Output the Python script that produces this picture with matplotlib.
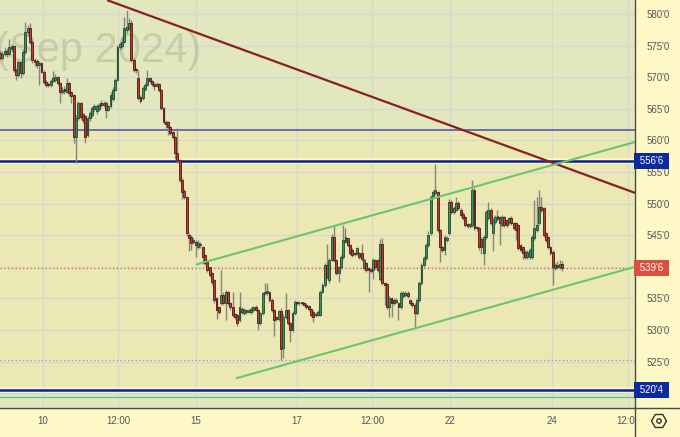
import matplotlib.pyplot as plt
from matplotlib.patches import RegularPolygon, Circle
from matplotlib.lines import Line2D
from matplotlib.transforms import Bbox, TransformedBbox

plt.rcParams['font.family'] = ['Liberation Sans', 'DejaVu Sans']

# hourly candles, wheat futures (Sep 2024 contract)
opens = [573.8, 573.0, 573.6, 574.2, 573.6, 574.4, 574.9, 571.2, 570.3, 572.4,
         570.6, 574.0, 577.2, 577.8, 575.5, 572.8, 572.6, 571.9, 572.2, 570.9,
         569.2, 569.0, 568.7, 569.4, 569.5, 570.0, 569.1, 567.7, 568.2, 567.7,
         569.1, 567.6, 567.2, 560.5, 563.5, 565.9, 564.2, 563.8, 560.9, 563.5,
         564.0, 564.9, 564.6, 565.0, 566.0, 565.6, 566.0, 564.8, 565.4, 566.6,
         568.0, 569.6, 574.8, 574.9, 575.6, 577.4, 577.8, 578.6, 572.7, 571.3,
         569.8, 566.9, 566.7, 568.1, 568.8, 569.8, 569.4, 569.0, 568.6, 568.9,
         568.0, 565.1, 562.9, 562.9, 562.1, 561.3, 560.5, 558.0, 556.9, 553.7,
         552.0, 551.0, 545.0, 544.7, 544.0, 544.0, 543.1, 543.4, 543.1, 541.9,
         540.8, 539.9, 539.0, 537.9, 535.1, 533.6, 534.3, 535.5, 534.3, 536.0,
         534.3, 533.6, 532.5, 532.4, 531.6, 533.4, 532.7, 532.9, 532.9, 532.9,
         533.2, 533.6, 533.2, 531.1, 532.7, 535.8, 535.8, 536.0, 534.7, 533.2,
         532.0, 531.7, 533.0, 527.2, 532.1, 533.2, 531.1, 530.0, 532.7, 534.4,
         534.2, 534.3, 534.2, 534.0, 533.8, 533.3, 532.9, 532.6, 532.4, 532.4,
         536.0, 537.1, 540.3, 537.9, 541.1, 544.7, 541.1, 539.0, 539.9, 541.5,
         544.0, 544.5, 543.4, 542.7, 542.2, 542.2, 542.2, 542.2, 539.8, 540.6,
         539.8, 539.6, 539.5, 541.1, 541.1, 538.0, 543.6, 537.4, 537.3, 533.6,
         535.1, 534.8, 534.5, 534.3, 533.6, 535.4, 535.6, 535.9, 534.7, 534.3,
         534.0, 532.7, 534.7, 537.4, 540.3, 541.4, 543.4, 545.3, 551.0, 551.7,
         551.8, 545.8, 543.1, 542.7, 544.2, 545.3, 550.3, 548.7, 549.0, 550.1,
         549.0, 548.4, 547.9, 546.7, 546.4, 546.6, 552.2, 546.3, 546.1, 544.4,
         542.2, 544.7, 547.7, 549.0, 545.3, 547.1, 547.6, 547.9, 546.6, 547.9,
         547.4, 547.1, 547.7, 546.9, 546.9, 546.6, 543.4, 543.1, 542.4, 541.5,
         541.5, 541.5, 544.5, 545.8, 546.9, 549.5, 549.3, 545.3, 544.7, 543.1,
         542.4, 539.8, 540.3, 539.9, 540.5]
highs = [574.3, 574.2, 574.6, 574.6, 576.0, 575.3, 575.0, 571.5, 572.7, 572.6,
         574.4, 578.7, 578.2, 578.6, 576.0, 573.0, 572.9, 572.6, 572.4, 571.1,
         569.5, 569.3, 569.7, 571.0, 570.5, 570.2, 569.3, 568.4, 568.6, 569.8,
         569.2, 567.8, 567.4, 564.0, 566.3, 566.1, 564.4, 564.0, 563.8, 564.6,
         565.4, 565.8, 565.8, 566.0, 566.4, 566.2, 566.2, 565.6, 567.6, 568.4,
         569.9, 575.1, 575.6, 576.4, 579.5, 580.6, 579.4, 579.0, 573.0, 571.4,
         571.1, 567.2, 568.6, 569.1, 571.1, 570.1, 569.6, 569.3, 569.2, 569.1,
         568.2, 565.3, 563.2, 563.0, 562.3, 561.5, 560.7, 561.9, 557.1, 554.0,
         552.3, 551.2, 545.4, 545.0, 544.6, 544.2, 544.2, 544.0, 543.3, 542.1,
         541.0, 540.0, 539.2, 538.1, 535.3, 533.8, 539.5, 536.0, 536.3, 536.2,
         534.5, 536.0, 532.7, 532.6, 536.0, 533.7, 533.5, 533.4, 533.3, 533.6,
         533.8, 533.9, 533.4, 532.9, 536.0, 537.4, 537.4, 536.2, 535.0, 533.4,
         532.2, 533.2, 533.5, 532.6, 535.9, 533.4, 531.3, 533.0, 534.7, 534.6,
         534.6, 534.5, 534.4, 534.2, 534.0, 533.5, 533.1, 532.8, 533.1, 536.3,
         537.4, 540.6, 543.6, 541.4, 545.2, 546.6, 541.3, 540.2, 541.8, 546.6,
         546.2, 544.6, 543.6, 542.9, 542.4, 543.1, 542.4, 543.6, 541.4, 540.8,
         540.0, 539.8, 541.4, 541.3, 541.3, 544.4, 544.6, 537.6, 537.5, 535.4,
         535.3, 535.0, 535.0, 534.5, 536.2, 536.1, 536.1, 536.1, 534.9, 534.6,
         534.2, 535.0, 537.7, 540.6, 541.7, 543.7, 545.6, 551.4, 552.2, 556.3,
         552.0, 546.0, 543.3, 545.0, 544.9, 550.8, 550.6, 549.6, 551.0, 550.4,
         549.3, 548.6, 548.1, 546.9, 546.9, 553.7, 552.4, 546.5, 546.3, 544.7,
         545.0, 549.0, 550.3, 549.3, 547.7, 548.2, 549.0, 548.1, 548.2, 548.1,
         547.6, 547.9, 548.0, 547.1, 547.1, 546.8, 543.6, 543.3, 542.6, 542.7,
         543.0, 545.0, 550.6, 551.0, 552.2, 551.0, 549.5, 545.5, 544.9, 543.3,
         542.6, 540.6, 540.9, 541.0, 540.9]
lows = [572.7, 572.8, 573.3, 573.2, 573.4, 574.0, 570.8, 569.5, 570.0, 569.8,
        570.4, 573.7, 576.5, 575.2, 572.3, 571.8, 571.5, 568.8, 570.6, 568.9,
        568.5, 568.4, 568.5, 569.2, 569.2, 568.8, 566.0, 567.3, 567.3, 567.5,
        567.0, 566.0, 559.6, 556.4, 563.2, 563.4, 562.8, 559.6, 560.5, 563.0,
        563.7, 564.6, 564.2, 564.7, 565.3, 565.3, 563.6, 564.6, 565.2, 566.3,
        567.8, 569.4, 574.3, 574.6, 575.4, 577.0, 577.5, 572.4, 570.8, 570.6,
        566.4, 565.9, 566.4, 567.8, 568.6, 569.1, 568.6, 568.0, 568.4, 567.7,
        564.8, 562.6, 561.9, 560.9, 560.8, 560.2, 557.0, 556.5, 553.4, 550.7,
        550.7, 544.8, 542.5, 542.6, 543.6, 541.5, 542.8, 543.0, 540.4, 540.3,
        539.2, 538.4, 537.2, 534.3, 531.7, 532.5, 534.0, 533.9, 531.6, 534.0,
        533.2, 532.1, 531.8, 530.6, 531.3, 532.6, 532.4, 532.6, 532.7, 532.6,
        532.9, 533.0, 530.0, 530.8, 532.4, 535.6, 535.5, 534.4, 532.9, 529.0,
        531.4, 531.4, 525.3, 525.6, 531.8, 530.8, 528.1, 529.7, 532.4, 533.9,
        534.0, 533.9, 533.8, 533.4, 533.0, 532.1, 531.2, 532.1, 532.2, 532.2,
        535.8, 536.8, 538.1, 537.4, 540.9, 540.8, 538.7, 537.6, 539.6, 541.3,
        543.7, 543.1, 541.9, 541.6, 541.7, 541.9, 541.2, 540.9, 539.5, 539.2,
        536.0, 539.1, 538.0, 539.7, 539.2, 537.8, 537.1, 534.0, 533.3, 532.1,
        532.0, 534.0, 534.2, 531.6, 533.3, 535.1, 535.3, 535.1, 534.0, 533.6,
        530.5, 532.4, 534.4, 537.1, 540.0, 541.1, 543.1, 545.0, 550.7, 551.4,
        545.5, 540.8, 542.4, 541.9, 543.9, 545.0, 548.4, 548.4, 548.8, 549.0,
        547.9, 547.4, 546.3, 546.1, 546.1, 546.3, 545.8, 545.6, 542.6, 542.0,
        540.3, 544.4, 547.4, 546.6, 542.5, 546.8, 547.3, 543.5, 546.3, 546.3,
        546.3, 546.8, 546.6, 545.8, 544.2, 542.7, 542.4, 541.2, 541.2, 541.2,
        541.2, 541.2, 544.2, 545.5, 546.6, 548.7, 544.7, 543.9, 542.8, 541.9,
        537.1, 539.5, 539.6, 539.6, 539.4]
closes = [573.0, 573.6, 574.2, 573.6, 574.8, 574.9, 571.2, 570.3, 572.4, 570.6,
          574.0, 577.2, 577.8, 575.5, 572.8, 572.4, 571.9, 572.2, 570.9, 569.2,
          568.8, 568.7, 569.4, 569.8, 570.0, 569.1, 567.7, 568.0, 567.8, 569.1,
          567.5, 567.0, 560.5, 563.5, 565.9, 563.7, 563.2, 560.5, 563.5, 564.3,
          565.1, 565.4, 565.4, 565.6, 565.6, 566.0, 564.8, 565.4, 567.2, 568.0,
          569.6, 574.8, 575.2, 575.6, 577.8, 578.0, 578.6, 572.7, 571.1, 571.1,
          566.7, 566.2, 568.3, 568.8, 569.9, 569.4, 568.9, 568.6, 568.9, 568.0,
          565.1, 562.9, 562.6, 562.1, 561.2, 560.5, 558.0, 556.9, 553.7, 551.8,
          551.0, 545.3, 544.6, 543.8, 544.3, 543.4, 543.8, 543.6, 541.5, 540.6,
          539.5, 538.7, 537.6, 534.7, 533.2, 532.8, 535.5, 534.3, 536.0, 534.3,
          533.6, 532.4, 532.1, 531.1, 533.6, 532.9, 533.2, 533.2, 533.1, 533.4,
          533.6, 533.2, 531.1, 532.7, 535.8, 536.0, 536.1, 534.7, 533.2, 531.6,
          531.7, 533.0, 527.0, 532.1, 533.2, 531.1, 530.0, 532.7, 534.4, 534.2,
          534.3, 534.2, 534.0, 533.6, 533.3, 532.4, 532.1, 532.4, 532.9, 536.0,
          537.1, 540.3, 538.4, 541.1, 544.7, 541.1, 539.0, 539.9, 541.5, 544.2,
          544.7, 543.4, 542.2, 541.9, 542.0, 542.9, 541.5, 541.2, 541.1, 539.5,
          539.5, 539.4, 541.1, 540.0, 539.5, 543.6, 537.4, 537.1, 533.6, 535.1,
          534.3, 534.3, 534.8, 533.6, 535.9, 535.9, 535.9, 535.4, 534.3, 534.0,
          532.7, 534.7, 537.4, 540.3, 541.4, 543.4, 545.0, 551.0, 551.8, 552.2,
          545.8, 543.1, 542.7, 544.7, 544.6, 550.3, 548.7, 549.3, 550.1, 549.3,
          548.2, 547.7, 546.6, 546.4, 546.7, 552.2, 546.1, 546.1, 543.1, 543.1,
          544.7, 548.7, 549.0, 546.9, 547.4, 547.9, 548.0, 547.0, 547.9, 546.6,
          546.6, 547.7, 546.9, 546.1, 545.8, 543.0, 542.7, 542.2, 541.5, 542.4,
          542.7, 544.7, 546.1, 546.6, 549.5, 549.0, 545.0, 544.2, 543.1, 542.2,
          540.0, 540.3, 539.9, 540.5, 539.75]

# price axis / time axis
price_ticks = [525, 530, 535, 545, 550, 555, 560, 565, 570, 575, 580]
hidden_grid = [520, 540]
time_ticks = [18.7, 51.2, 85.1, 129.0, 161.5, 195.4, 239.7, 272.7]
time_labels = ['10', '12:00', '15', '17', '12:00', '22', '24', '12:00']

# drawn levels and trend lines
zone_top = 561.6
support_level = 520.5
resist_level = 556.75
last_price = 539.75
low_mark = 525.3
teal_level = 519.4
downtrend = ([46.5, 275.7], [582.2, 551.7])
channel_up = ([85.5, 275.7], [540.4, 559.75])
channel_low = ([102.9, 275.7], [522.4, 540.0])


def fmt(p):
    whole = int(p)
    return f"{whole}'{int(round((p - whole) * 8))}"


fig = plt.figure(figsize=(6.8, 4.37), dpi=100, facecolor='#fdf8c6')
ax = fig.add_axes([0, 29 / 437, 635 / 680, 408 / 437])
ax.set_facecolor('#e3e7bd')
ax.set_xlim(0, 275.7)
ax.set_ylim(517.66, 582.22)
ax.axhspan(support_level, zone_top, color='#ebe8b3', zorder=0, lw=0)

ax.set_axisbelow(True)
ax.set_yticks(hidden_grid, minor=True)
ax.grid(True, which='both', color='#d3d9d0', lw=0.9)

# watermark
ax.text(-0.008, 0.848, '(Sep 2024)', transform=ax.transAxes, fontsize=30,
        color='#858c74', alpha=0.28, va='baseline', ha='left', zorder=0.6)

# horizontal levels
ax.axhline(zone_top, color='#4c4ca6', lw=1.1, zorder=1)
for lv in (resist_level, support_level):
    ax.axhline(lv, color='#fbf7cf', lw=4.0, zorder=1)
    ax.axhline(lv, color='#0c1f94', lw=1.8, zorder=1.1)
ax.axhline(teal_level, color='#5cbf8c', lw=0.9, zorder=1)
ax.axhline(last_price, color='#d9573b', lw=0.9, ls=(0, (1, 2)), zorder=1)
ax.axhline(low_mark, color='#9a9a9a', lw=0.9, ls=(0, (1, 2)), zorder=1)

# candles
idx = list(range(len(closes)))
up = [c >= o for o, c in zip(opens, closes)]
ax.vlines(idx, lows, highs, color='#85857c', lw=1.0, zorder=2)
heights = [(c - o) if abs(c - o) > 0.15 else 0.15 for o, c in zip(opens, closes)]
ax.bar(idx, heights, bottom=opens, width=0.82,
       color=['#3f8f60' if u else '#c23a2d' for u in up],
       edgecolor=['#1f4a31' if u else '#4e1a14' for u in up],
       lw=0.6, zorder=3)

# trend lines
ax.plot(*downtrend, color='#8a1f22', lw=1.6, zorder=4, solid_capstyle='butt')
ax.plot(*channel_up, color='#6cc46f', lw=1.5, zorder=4)
ax.plot(*channel_low, color='#6cc46f', lw=1.5, zorder=4)

# axes styling
for s in ('top', 'left'):
    ax.spines[s].set_visible(False)
for s in ('right', 'bottom'):
    ax.spines[s].set_color('#4a4a4a')
    ax.spines[s].set_linewidth(1)

ax.yaxis.tick_right()
ax.set_yticks(price_ticks)
ax.set_yticklabels([fmt(p) for p in price_ticks])
ax.tick_params(axis='y', which='both', length=0, pad=8, labelsize=7, labelcolor='#555555')
ax.set_xticks(time_ticks)
ax.set_xticklabels(time_labels)
ax.tick_params(axis='x', length=0, pad=6, labelsize=7, labelcolor='#555555')
clip = TransformedBbox(Bbox([[0, 0], [635 / 680, 1]]), fig.transFigure)
for lab in ax.get_xticklabels():
    lab.set_clip_box(clip)
    lab.set_clip_on(True)

# price tags
tags = [(resist_level, '#0c2a9c'), (last_price, '#d9503f'), (support_level, '#0c2a9c')]
for val, col in tags:
    ax.text(1.003, val, ' ' + fmt(val) + ' ', transform=ax.get_yaxis_transform(),
            fontsize=7, color='white', va='center', ha='left', clip_on=False,
            bbox=dict(boxstyle='square,pad=0.3', fc=col, ec='none'), zorder=6)

# frame lines into the axis strips
fig.add_artist(Line2D([635 / 680, 635 / 680], [0, 29 / 437], color='#4a4a4a', lw=1))
fig.add_artist(Line2D([635 / 680, 1], [29 / 437, 29 / 437], color='#4a4a4a', lw=1))

# settings icon
fig.add_artist(RegularPolygon((6.59, 0.16), numVertices=6, radius=0.075,
                              orientation=3.14159 / 6, fill=False, ec='#333333', lw=1,
                              transform=fig.dpi_scale_trans))
fig.add_artist(Circle((6.59, 0.16), 0.022, fill=False, ec='#333333', lw=1,
                      transform=fig.dpi_scale_trans))

fig.savefig('out.png', dpi=100)
